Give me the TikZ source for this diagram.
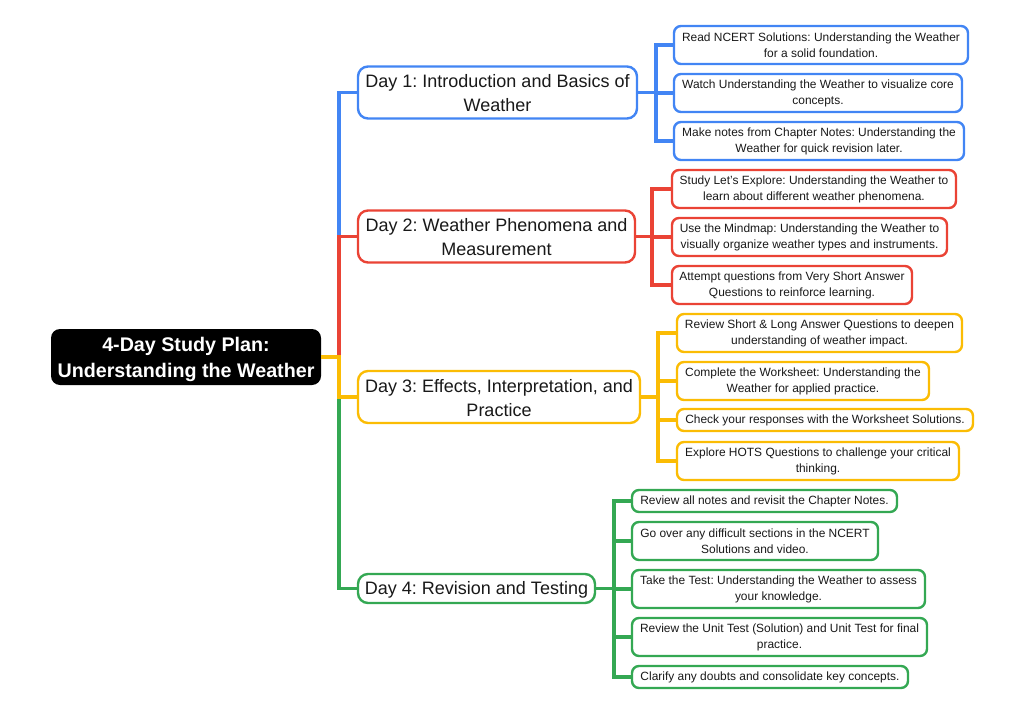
\documentclass[tikz,border=0pt]{standalone}
\usepackage{fontspec}
\setmainfont{Liberation Sans}
\frenchspacing
\definecolor{gblue}{HTML}{4285F4}
\definecolor{gred}{HTML}{EA4335}
\definecolor{gyellow}{HTML}{FBBC04}
\definecolor{ggreen}{HTML}{34A853}
\newcommand{\drop}[1]{\rule{0pt}{#1}}
\tikzset{
  root/.style={rectangle, rounded corners=9pt, fill=black, text=white, inner sep=0pt, outer sep=0pt, align=center, minimum width=270pt, minimum height=56pt, font=\fontsize{19.7}{26}\selectfont\bfseries},
  day/.style={rectangle, rounded corners=10pt, draw=#1, fill=white, line width=2.4pt, inner sep=0pt, outer sep=0pt, align=center, text=black!90, minimum height=29pt, font=\fontsize{18}{24}\selectfont},
  leaf/.style={rectangle, rounded corners=7pt, draw=#1, fill=white, line width=2.4pt, inner sep=0pt, outer sep=0pt, align=center, text=black!90, minimum height=22pt, font=\fontsize{11.95}{16}\selectfont},
  link/.style={draw=#1, line width=3.1pt},
}
\begin{document}
\begin{tikzpicture}[x=1pt, y=-1pt]
    \useasboundingbox (0,0) rectangle (1024,714);

    %Nodes
    \node[root] at (186,357) (root) {\drop{20pt}4-Day Study Plan:\\Understanding the Weather};

    \node[day=gblue, minimum width=279pt, minimum height=52pt] at (497.5,92.5) (day1) {\drop{15pt}Day 1: Introduction and Basics of\\Weather};
    \node[day=gred, minimum width=277pt, minimum height=52pt] at (496.5,236.5) (day2) {\drop{15pt}Day 2: Weather Phenomena and\\Measurement};
    \node[day=gyellow, minimum width=282pt, minimum height=52pt] at (499,397) (day3) {\drop{15pt}Day 3: Effects, Interpretation, and\\Practice};
    \node[day=ggreen, minimum width=237pt] at (476.5,588.5) (day4) {\drop{15pt}Day 4: Revision and Testing};

    \node[leaf=gblue, minimum width=294pt, minimum height=38pt] at (821,45) (read) {Read NCERT Solutions: Understanding the Weather\\for a solid foundation.};
    \node[leaf=gblue, minimum width=288pt, minimum height=38pt] at (818,93) (watch) {Watch Understanding the Weather to visualize core\\concepts.};
    \node[leaf=gblue, minimum width=290pt, minimum height=38pt] at (819,141) (notes) {Make notes from Chapter Notes: Understanding the\\Weather for quick revision later.};

    \node[leaf=gred, minimum width=284pt, minimum height=38pt] at (814,189) (explore) {Study Let's Explore: Understanding the Weather to\\learn about different weather phenomena.};
    \node[leaf=gred, minimum width=275pt, minimum height=38pt] at (809.5,237) (mindmap) {Use the Mindmap: Understanding the Weather to\\visually organize weather types and instruments.};
    \node[leaf=gred, minimum width=240pt, minimum height=38pt] at (792,285) (vsa) {Attempt questions from Very Short Answer\\Questions to reinforce learning.};

    \node[leaf=gyellow, minimum width=285pt, minimum height=38pt] at (819.5,333) (review) {Review Short \& Long Answer Questions to deepen\\understanding of weather impact.};
    \node[leaf=gyellow, minimum width=252pt, minimum height=38pt] at (803,381) (sheet) {Complete the Worksheet: Understanding the\\Weather for applied practice.};
    \node[leaf=gyellow, minimum width=296pt] at (825,420) (check) {Check your responses with the Worksheet Solutions.};
    \node[leaf=gyellow, minimum width=282pt, minimum height=38pt] at (818,461) (hots) {Explore HOTS Questions to challenge your critical\\thinking.};

    \node[leaf=ggreen, minimum width=265pt] at (764.5,501) (revisit) {Review all notes and revisit the Chapter Notes.};
    \node[leaf=ggreen, minimum width=246pt, minimum height=38pt] at (755,541) (hard) {Go over any difficult sections in the NCERT\\Solutions and video.};
    \node[leaf=ggreen, minimum width=293pt, minimum height=38pt] at (778.5,589) (test) {Take the Test: Understanding the Weather to assess\\your knowledge.};
    \node[leaf=ggreen, minimum width=295pt, minimum height=38pt] at (779.5,637) (unit) {Review the Unit Test (Solution) and Unit Test for final\\practice.};
    \node[leaf=ggreen, minimum width=276pt] at (770,677) (doubts) {Clarify any doubts and consolidate key concepts.};

    \coordinate (trunk) at (339,357);
    \coordinate (fork1) at (656,92.5);
    \coordinate (fork2) at (652,236.5);
    \coordinate (fork3) at (658,397);
    \coordinate (fork4) at (614,588.5);

    %Lines
    \draw[link=gblue] (trunk) |- (day1.west);
    \draw[link=gred] (trunk) |- (day2.west);
    \draw[link=ggreen] (trunk) |- (day4.west);
    \draw[link=gyellow] (root.east) -- (trunk) |- (day3.west);

    \draw[link=gblue] (day1.east) -- (fork1) |- (read.west);
    \draw[link=gblue] (fork1) |- (watch.west);
    \draw[link=gblue] (fork1) |- (notes.west);

    \draw[link=gred] (day2.east) -- (fork2) |- (explore.west);
    \draw[link=gred] (fork2) |- (mindmap.west);
    \draw[link=gred] (fork2) |- (vsa.west);

    \draw[link=gyellow] (day3.east) -- (fork3) |- (review.west);
    \draw[link=gyellow] (fork3) |- (sheet.west);
    \draw[link=gyellow] (fork3) |- (check.west);
    \draw[link=gyellow] (fork3) |- (hots.west);

    \draw[link=ggreen] (day4.east) -- (fork4) |- (revisit.west);
    \draw[link=ggreen] (fork4) |- (hard.west);
    \draw[link=ggreen] (fork4) |- (test.west);
    \draw[link=ggreen] (fork4) |- (unit.west);
    \draw[link=ggreen] (fork4) |- (doubts.west);
\end{tikzpicture}
\end{document}
